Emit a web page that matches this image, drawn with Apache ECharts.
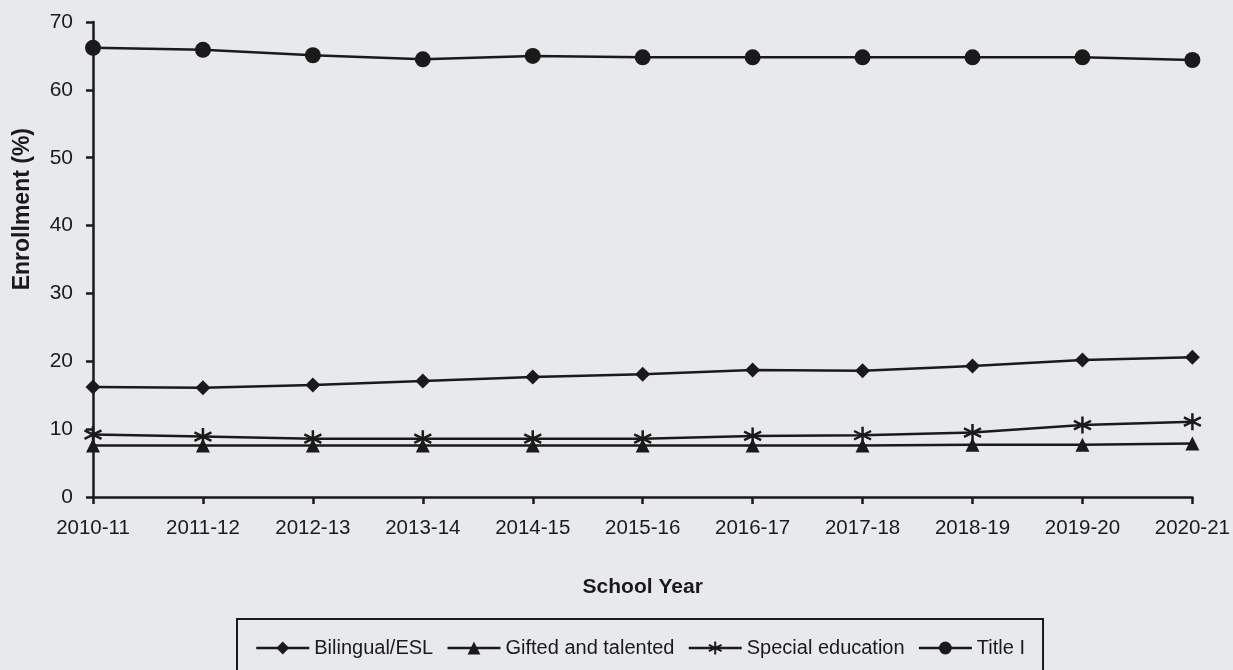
<!DOCTYPE html>
<html>
<head>
<meta charset="utf-8">
<script src="https://cdn.jsdelivr.net/npm/echarts@6/dist/echarts.min.js"></script>
<style>
html,body{margin:0;padding:0;background:#e8e9ed;}
#chart{width:1233px;height:670px;}
</style>
</head>
<body>
<div id="chart"></div>
<script>
const categories = ['2010-11','2011-12','2012-13','2013-14','2014-15','2015-16','2016-17','2017-18','2018-19','2019-20','2020-21'];
const bilingualESL = [16.2,16.1,16.5,17.1,17.7,18.1,18.7,18.6,19.3,20.2,20.6];
const giftedTalented = [7.6,7.6,7.6,7.6,7.6,7.6,7.6,7.6,7.7,7.7,7.9];
const specialEducation = [9.2,8.9,8.6,8.6,8.6,8.6,9.0,9.1,9.5,10.6,11.1];
const titleI = [66.2,65.9,65.1,64.5,65.0,64.8,64.8,64.8,64.8,64.8,64.4];
const yTicks = [0,10,20,30,40,50,60,70];

const FONT = '"Liberation Sans",Arial,sans-serif';
const INK = '#1a1a1a';
const asterisk = 'path://M0,-10 L0,10 M-8.66,-5 L8.66,5 M-8.66,5 L8.66,-5';

const chart = echarts.init(document.getElementById('chart'));
function lineSeries(name, data, symbol, size, extraItem) {
  return {
    name, type: 'line', data, symbol, symbolSize: size,
    showAllSymbol: true,
    lineStyle: { color: INK, width: 2.5 },
    itemStyle: Object.assign({ color: INK }, extraItem || {}),
    emphasis: { disabled: true },
    animation: false
  };
}
chart.setOption({
  backgroundColor: '#e8e9ed',
  animation: false,
  grid: { left: 93, right: 39, top: 22, bottom: 173, containLabel: false },
  xAxis: {
    type: 'category', data: categories, boundaryGap: false,
    name: 'School Year', nameLocation: 'middle', nameGap: 80,
    nameTextStyle: { fontFamily: FONT, fontSize: 21, fontWeight: 'bold', color: INK },
    axisLine: { lineStyle: { color: INK, width: 2.5 } },
    axisTick: { show: true, length: 7, interval: 0, lineStyle: { color: INK, width: 2.5 } },
    axisLabel: { fontFamily: FONT, fontSize: 20.5, color: INK, margin: 21, interval: 0 },
    splitLine: { show: false }
  },
  yAxis: {
    type: 'value', min: 0, max: 70, interval: 10,
    axisLine: { show: true, lineStyle: { color: INK, width: 2.5 } },
    axisTick: { show: true, length: 7, lineStyle: { color: INK, width: 2.5 } },
    axisLabel: { fontFamily: FONT, fontSize: 21, color: INK, margin: 20,
      formatter: v => yTicks.includes(v) ? String(v) : '' },
    splitLine: { show: false }
  },
  legend: {
    left: 237, top: 619,
    padding: [19, 18, 16, 18],
    borderColor: INK, borderWidth: 2,
    itemWidth: 53, itemHeight: 16, itemGap: 13,
    lineStyle: { width: 2.5 },
    textStyle: { fontFamily: FONT, fontSize: 20, color: INK },
    data: ['Bilingual/ESL','Gifted and talented','Special education','Title I']
  },
  graphic: [{
    type: 'text', left: 11, top: 128,
    rotation: Math.PI / 2,
    style: { text: 'Enrollment (%)', font: 'bold 23px ' + FONT, fill: INK }
  }],
  series: [
    lineSeries('Bilingual/ESL', bilingualESL, 'diamond', 15),
    lineSeries('Gifted and talented', giftedTalented, 'triangle', 14),
    lineSeries('Special education', specialEducation, asterisk, 17, { color: 'transparent', borderColor: INK, borderWidth: 2.5 }),
    lineSeries('Title I', titleI, 'circle', 16)
  ]
});
</script>
</body>
</html>
